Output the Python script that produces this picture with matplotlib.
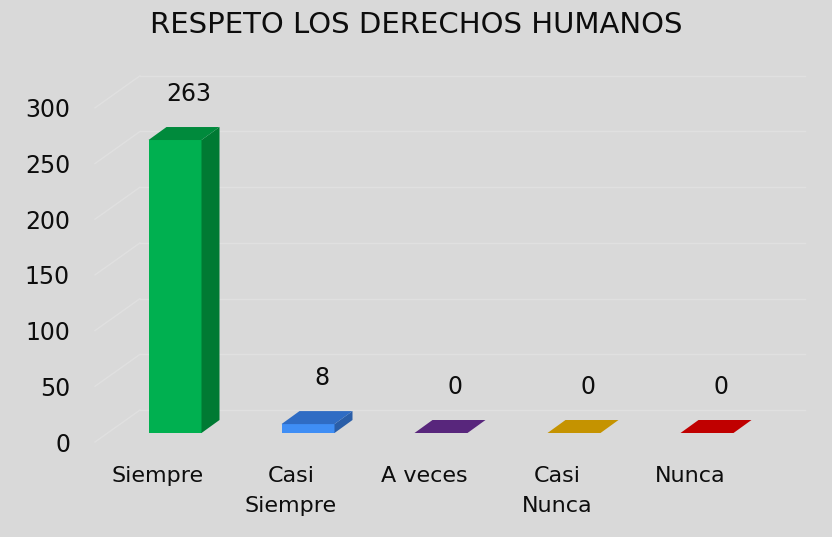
import numpy as np
import matplotlib
matplotlib.use("Agg")
import matplotlib.pyplot as plt
from matplotlib.patches import Polygon

categories = ["Siempre", "Casi\nSiempre", "A veces", "Casi\nNunca", "Nunca"]
values = [263, 8, 0, 0, 0]
yticks = [0, 50, 100, 150, 200, 250, 300]

front_colors = ["#00b050", "#3f8ef5", "#6a2f96", "#d9a400", "#d60000"]
top_colors = ["#008a3c", "#2f6cc4", "#58267c", "#c59300", "#c00000"]
side_colors = ["#007a33", "#2a5ea8", "#4a1f6a", "#a87c00", "#a00000"]

W, H = 832, 537
PXX = 133.0      # pixels per category
PXY = 1.114      # pixels per unit
X0, Y0 = 175, 433  # pixel of bar centre (category 0) / floor of bars

fig = plt.figure(figsize=(W / 100, H / 100), dpi=100)
fig.patch.set_facecolor("#d9d9d9")
ax = fig.add_axes([0, 0, 1, 1])
ax.set_facecolor("#d9d9d9")
ax.set_xlim(-X0 / PXX, (W - X0) / PXX)
ax.set_ylim((Y0 - H) / PXY, Y0 / PXY)
ax.axis("off")

# offsets converted to data units
def dx(px):
    return px / PXX

def dy(px):
    return px / PXY

FONT = "DejaVu Sans"

# back wall and side wall grid
wall_l = (95 - X0) / PXX
wall_r = (805 - X0) / PXX
for v in yticks:
    yf = v - dy(9)
    yb = v + dy(23)
    ax.plot([wall_l, wall_l + dx(45)], [yf, yb], color="#e0e0e0", lw=1, zorder=1)
    ax.plot([wall_l + dx(45), wall_r], [yb, yb], color="#e0e0e0", lw=1, zorder=1)
    ax.text((70 - X0) / PXX, yf, str(v), ha="right", va="center_baseline",
            fontsize=17, family=FONT, color="#0d0d0d")

# 3D-looking bars
bw = dx(53) / 2
ddx, ddy = dx(18), dy(13)
for i, v in enumerate(values):
    xl, xr = i - bw, i + bw
    if v > 0:
        ax.add_patch(Polygon([(xl, 0), (xr, 0), (xr, v), (xl, v)],
                             closed=True, fc=front_colors[i], ec="none", zorder=3))
        ax.add_patch(Polygon([(xr, 0), (xr + ddx, ddy), (xr + ddx, v + ddy), (xr, v)],
                             closed=True, fc=side_colors[i], ec="none", zorder=3))
    ax.add_patch(Polygon([(xl, v), (xr, v), (xr + ddx, v + ddy), (xl + ddx, v + ddy)],
                         closed=True, fc=top_colors[i], ec="none", zorder=3))
    ax.text(i + dx(14), v + dy(49), str(v), ha="center", va="center_baseline",
            fontsize=17, family=FONT, color="#0d0d0d")

for i, c in enumerate(categories):
    ax.text(i - dx(17), -dy(33), c, ha="center", va="top", fontsize=16,
            family=FONT, color="#0d0d0d", linespacing=1.62)

fig.text(0.5, 1 - 22 / H, "RESPETO LOS DERECHOS HUMANOS", ha="center",
         va="center_baseline", fontsize=21, family=FONT, color="#0d0d0d")

fig.savefig("out.png", dpi=100, facecolor=fig.get_facecolor())
